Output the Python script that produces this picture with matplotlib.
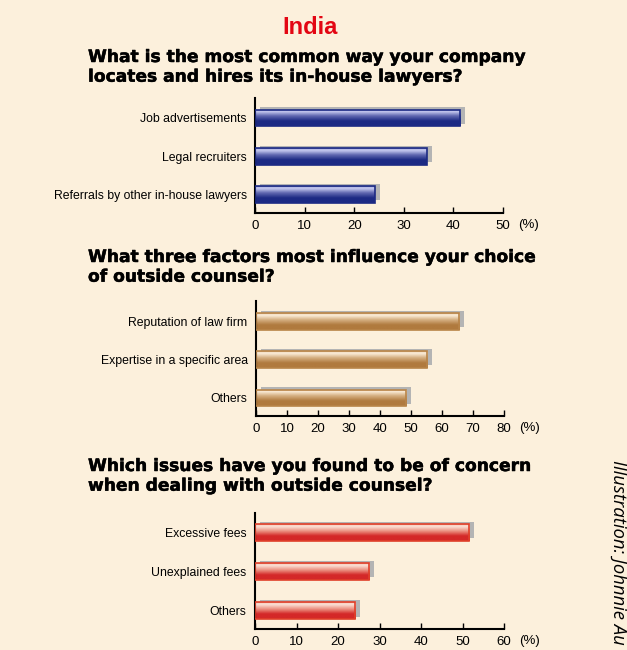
import numpy as np
import matplotlib
matplotlib.use("Agg")
import matplotlib.pyplot as plt
from matplotlib.colors import LinearSegmentedColormap
from matplotlib.transforms import ScaledTranslation
import matplotlib.patheffects as pe

# ---- data ----
title = "India"
q1 = "What is the most common way your company\nlocates and hires its in-house lawyers?"
cats1 = ["Job advertisements", "Legal recruiters", "Referrals by other in-house lawyers"]
vals1 = [41.4, 34.6, 24.1]
ticks1 = [0, 10, 20, 30, 40, 50]

q2 = "What three factors most influence your choice\nof outside counsel?"
cats2 = ["Reputation of law firm", "Expertise in a specific area", "Others"]
vals2 = [65.5, 55.3, 48.5]
ticks2 = [0, 10, 20, 30, 40, 50, 60, 70, 80]

q3 = "Which issues have you found to be of concern\nwhen dealing with outside counsel?"
cats3 = ["Excessive fees", "Unexplained fees", "Others"]
vals3 = [51.6, 27.5, 24.1]
ticks3 = [0, 10, 20, 30, 40, 50, 60]

credit = "Illustration: Johnnie Au"

BG = "#fcf0dc"
W, H = 627, 650
fig = plt.figure(figsize=(W / 100, H / 100), dpi=100, facecolor=BG)

LABEL_FONT = "Liberation Sans"

def px_axes(x0, x1, ytop, ybot):
    return fig.add_axes([x0 / W, 1 - ybot / H, (x1 - x0) / W, (ybot - ytop) / H])

def grad_cmap(light, mid, dark):
    return LinearSegmentedColormap.from_list(
        "g", [(0, dark), (0.3, dark), (0.6, mid), (0.85, light), (0.93, light), (1.0, mid)])

def draw_chart(ax, cats, vals, ticks, cols, edge, ymargin_top, ymargin_bot):
    ax.set_facecolor("none")
    n = len(cats)
    ys = np.arange(n)[::-1]
    h = 0.43
    shadow_tr = ax.transData + ScaledTranslation(5 / 100, 2.5 / 100, fig.dpi_scale_trans)
    ax.barh(ys, vals, height=h, color="#b4b4b4", transform=shadow_tr, zorder=1, linewidth=0)
    cmap = grad_cmap(*cols)
    grad = np.linspace(0, 1, 64).reshape(-1, 1)
    bars = ax.barh(ys, vals, height=h, facecolor="none", edgecolor=edge, linewidth=1.2, zorder=3)
    for b, y, v in zip(bars, ys, vals):
        im = ax.imshow(grad, cmap=cmap, aspect="auto", origin="lower",
                       extent=(0, v, y - h / 2, y + h / 2), zorder=2, interpolation="bilinear")
        im.set_clip_path(b)
    ax.set_xlim(ticks[0], ticks[-1])
    ax.set_ylim(-ymargin_bot, n - 1 + ymargin_top)
    ax.set_yticks(ys)
    ax.set_yticklabels(cats, fontsize=8.8, family=LABEL_FONT)
    ax.tick_params(axis="y", length=0, pad=6)
    ax.set_xticks(ticks)
    ax.set_xticklabels([str(t) for t in ticks], fontsize=9.5, family=LABEL_FONT)
    ax.tick_params(axis="x", direction="in", length=4, width=1, pad=5)
    for s in ["top", "right"]:
        ax.spines[s].set_visible(False)
    ax.spines["left"].set_linewidth(1.5)
    ax.spines["bottom"].set_linewidth(1.5)
    ax.text(1.06, -0.055, "(%)", transform=ax.transAxes, fontsize=9.5, family=LABEL_FONT,
            va="top", ha="left")

blue = ("#c0c4ec", "#6068b0", "#1c2a84")
tan = ("#f8e8d2", "#d4ae80", "#b07a3e")
red = ("#fadcd0", "#ec9484", "#d42828")

ax1 = px_axes(255, 503, 98, 213)
draw_chart(ax1, cats1, vals1, ticks1, blue, "#1c2a84", 0.52, 0.48)
ax2 = px_axes(256, 504, 301, 416)
draw_chart(ax2, cats2, vals2, ticks2, tan, "#b88448", 0.53, 0.47)
ax3 = px_axes(255, 504, 513, 629)
draw_chart(ax3, cats3, vals3, ticks3, red, "#e0402a", 0.5, 0.47)

fig.text(310 / W, 1 - 27 / H, title, color="#e30613", fontsize=17, fontweight="bold",
         family=LABEL_FONT, ha="center", va="center")
qkw = dict(fontsize=12.3, fontweight="bold", family="DejaVu Sans", ha="left", va="top",
           linespacing=1.12, color="black",
           path_effects=[pe.withStroke(linewidth=0.35, foreground="black")])
fig.text(88 / W, 1 - 48 / H, q1, **qkw)
fig.text(88 / W, 1 - 248 / H, q2, **qkw)
fig.text(88 / W, 1 - 457 / H, q3, **qkw)

fig.text(618 / W, 1 - 460 / H, credit, rotation=-90, fontsize=13.3, style="italic",
         family="Open Sans", ha="center", va="top")

fig.savefig("out.png", dpi=100, facecolor=BG)
